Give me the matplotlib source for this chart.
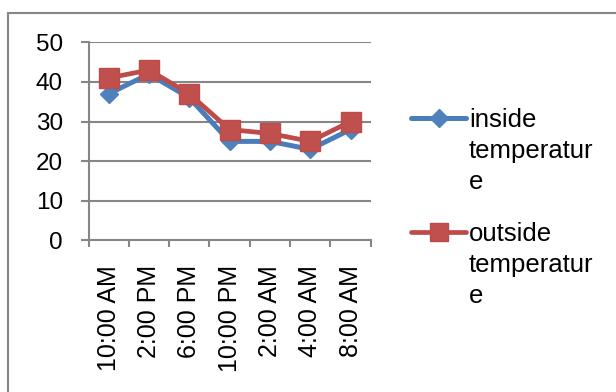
import matplotlib
matplotlib.use("Agg")
import matplotlib.pyplot as plt
from matplotlib.lines import Line2D
from matplotlib.patches import Rectangle

# Temperature readings over a day
times = ["10:00 AM", "2:00 PM", "6:00 PM", "10:00 PM", "2:00 AM", "4:00 AM", "8:00 AM"]
inside = [37, 42, 36, 25, 25, 23, 28]
outside = [41, 43, 37, 28, 27, 25, 30]
series_names = ["inside\ntemperatur\ne", "outside\ntemperatur\ne"]
y_ticks = [0, 10, 20, 30, 40, 50]

W, H, DPI = 616, 392, 100
plt.rcParams["font.family"] = ["Liberation Sans", "DejaVu Sans"]

fig = plt.figure(figsize=(W / DPI, H / DPI), dpi=DPI)
fig.patch.set_facecolor("white")

def fx(px):
    return px / W

def fy(py):
    return 1 - py / H

grid_c = "#868686"
blue_line, blue_fill = "#4A7EBB", "#4F81BD"
red_line, red_fill = "#BE4B48", "#C0504D"

# Chart frame
fig.add_artist(Rectangle((fx(8), fy(400)), fx(620) - fx(8), fy(13) - fy(400),
                         transform=fig.transFigure, fill=False,
                         edgecolor=grid_c, linewidth=1.5))

ax = fig.add_axes([fx(88.5), fy(240.5), fx(370.7) - fx(88.5), fy(42.3) - fy(240.5)])
ax.set_facecolor("none")

x = list(range(len(times)))
ax.plot(x, inside, color=blue_line, linewidth=3.6, marker="D", markersize=9.5,
        markerfacecolor=blue_fill, markeredgecolor=blue_fill, zorder=3,
        solid_joinstyle="round")
ax.plot(x, outside, color=red_line, linewidth=3.4, marker="s", markersize=14,
        markerfacecolor=red_fill, markeredgecolor=red_line, zorder=4,
        solid_joinstyle="round")

ax.set_xlim(-0.5, len(times) - 0.5)
ax.set_ylim(0, 50)
ax.set_yticks(y_ticks)
ax.set_yticklabels([str(v) for v in y_ticks])
ax.yaxis.grid(True, color=grid_c, linewidth=1.5)
ax.set_axisbelow(True)

ax.set_xticks([i - 0.5 for i in range(len(times) + 1)])
ax.set_xticklabels([])
ax.set_xticks(x, minor=True)
ax.set_xticklabels(times, minor=True, rotation=90, va="top", ha="center")
ax.tick_params(axis="x", which="minor", length=0, pad=17.5, labelsize=18)
ax.tick_params(axis="x", which="major", length=5, width=1.5, color=grid_c, direction="out")
ax.tick_params(axis="y", length=6, width=1.5, color=grid_c, pad=12.5, labelsize=17.5)

for side in ("top", "right"):
    ax.spines[side].set_visible(False)
for side in ("left", "bottom"):
    ax.spines[side].set_color(grid_c)
    ax.spines[side].set_linewidth(1.5)

# Legend
entries = [
    (118, blue_line, blue_fill, blue_fill, "D", 9.5, 3.6, series_names[0]),
    (232, red_line, red_fill, red_line, "s", 13, 3.4, series_names[1]),
]
for yc, lc, mfc, mec, mk, ms, lw, label in entries:
    fig.add_artist(Line2D([fx(411), fx(466)], [fy(yc), fy(yc)], transform=fig.transFigure,
                          color=lc, linewidth=lw, solid_capstyle="round"))
    fig.add_artist(Line2D([fx(438.5)], [fy(yc)], transform=fig.transFigure,
                          marker=mk, markersize=ms, markerfacecolor=mfc,
                          markeredgecolor=mec, linestyle="none"))
    for k, line in enumerate(label.split("\n")):
        fig.text(fx(469), fy(yc + 9 + 31 * k), line, fontsize=18.5,
                 va="baseline", ha="left", color="black")

fig.savefig("out.png", dpi=DPI)
